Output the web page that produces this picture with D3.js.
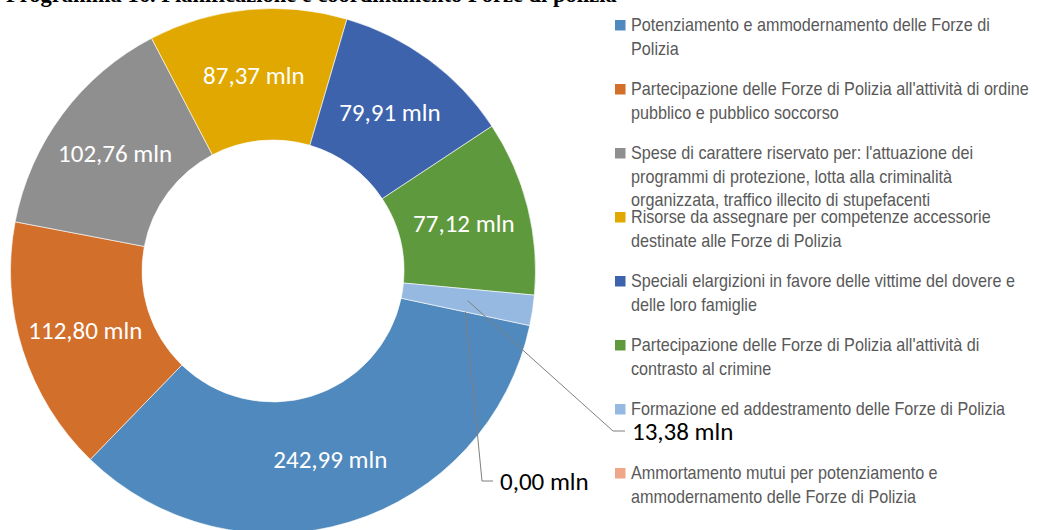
<!DOCTYPE html>
<html><head><meta charset="utf-8">
<script src="https://cdn.jsdelivr.net/npm/d3@7"></script>
<style>body{margin:0;background:#fff;overflow:hidden} svg{display:block}</style>
</head><body><svg id="c" width="1043" height="530"></svg>
<script>
const title = "Programma 16. Pianificazione e coordinamento Forze di polizia";
const categories = [
  "Potenziamento e ammodernamento delle Forze di Polizia",
  "Partecipazione delle Forze di Polizia all'attività di ordine pubblico e pubblico soccorso",
  "Spese di carattere riservato per: l'attuazione dei programmi di protezione, lotta alla criminalità organizzata, traffico illecito di stupefacenti",
  "Risorse da assegnare per competenze accessorie destinate alle Forze di Polizia",
  "Speciali elargizioni in favore delle vittime del dovere e delle loro famiglie",
  "Partecipazione delle Forze di Polizia all'attività di contrasto al crimine",
  "Formazione ed addestramento delle Forze di Polizia",
  "Ammortamento mutui per potenziamento e ammodernamento delle Forze di Polizia"
];
const values = [242.99, 112.80, 102.76, 87.37, 79.91, 77.12, 13.38, 0.00];
const colors = ["#4F89BD", "#D26F2A", "#8F8F8F", "#E0A800", "#3D63AD", "#5F993D", "#95B9E0", "#F0A688"];

const W = 1043, H = 530;
const cx = 273, cy = 271, rOut = 262.5, rIn = 131;
const startDeg = 102;

const it = d3.formatLocale({decimal: ",", thousands: ".", grouping: [3], currency: ["", "€"]});
const fmt = v => it.format(".2f")(v) + " mln";

const svg = d3.select("#c");

// title (cut off at top, as in the reference)
svg.append("text").attr("x", 6).attr("y", 2)
  .attr("font-family", "'Liberation Serif','Times New Roman',serif")
  .attr("font-weight", "bold").attr("font-size", 22.5).attr("fill", "#000")
  .text(title);

const data = values.map((v, i) => ({v, i, name: categories[i], color: colors[i]}));
const a0 = startDeg * Math.PI / 180;
const pie = d3.pie().sort(null).value(d => d.v).startAngle(a0).endAngle(a0 + 2 * Math.PI);
const arcs = pie(data);
const arc = d3.arc().innerRadius(rIn).outerRadius(rOut);
const g = svg.append("g").attr("transform", `translate(${cx},${cy})`);

g.selectAll("path").data(arcs).join("path")
  .attr("d", arc).attr("fill", d => d.data.color)
  .attr("stroke", "#fff").attr("stroke-width", d => d.data.v > 0 ? 0.6 : 0);

const labelFont = "Carlito, Calibri, Lato, sans-serif";
const labelSize = 25;
const inside = arcs.filter(d => d.data.v > 50);
g.selectAll("text.in").data(inside).join("text").attr("class", "in")
  .attr("transform", d => `translate(${arc.centroid(d)})`)
  .attr("text-anchor", "middle").attr("dy", "0.35em")
  .attr("font-family", labelFont).attr("font-size", labelSize).attr("fill", "#fff")
  .text(d => fmt(d.data.v));

// outside labels with leader lines (elbow offsets relative to chart centre)
const outsideLayout = {6: {ex: 340, ey: 160, hx: 352}, 7: {ex: 209, ey: 210, hx: 220}};
arcs.filter(d => d.data.v <= 50).forEach(d => {
  const L = outsideLayout[d.data.i];
  const [px, py] = arc.centroid(d);
  g.append("path")
    .attr("d", `M${px},${py}L${L.ex},${L.ey}L${L.hx},${L.ey}`)
    .attr("fill", "none").attr("stroke", "#7f7f7f").attr("stroke-width", 1);
  g.append("text").attr("x", L.hx + 7).attr("y", L.ey).attr("dy", "0.35em")
    .attr("font-family", labelFont).attr("font-size", labelSize).attr("fill", "#000")
    .text(fmt(d.data.v));
});

// legend (narrow sans, emulated with a horizontal scale)
const legX = 615, legTextX = 631, legY0 = 25, legStep = 64, lineH = 23.3, maxW = 410;
const legFont = "'Liberation Sans Narrow','Arial Narrow','Liberation Sans',Arial,sans-serif";
const legSize = 18;
const leg = svg.append("g");
const probe = svg.append("text").attr("font-family", legFont).attr("font-size", legSize)
  .text("Partecipazione delle Forze di Polizia all'attività di ordine");
const sx = Math.min(1, 398 / probe.node().getComputedTextLength());
probe.remove();

data.forEach((d, k) => {
  const y = legY0 + legStep * k;
  leg.append("rect").attr("x", legX).attr("y", y - 5).attr("width", 10.5).attr("height", 10.5)
    .attr("fill", d.color);
  const t = leg.append("text").attr("font-family", legFont).attr("font-size", legSize)
    .attr("fill", "#595959")
    .attr("transform", `translate(${legTextX},0) scale(${sx},1)`);
  const words = d.name.split(" ");
  let line = [], ln = 0;
  let ts = t.append("tspan").attr("x", 0).attr("y", y).attr("dy", "0.35em");
  words.forEach(w => {
    line.push(w);
    ts.text(line.join(" "));
    if (ts.node().getComputedTextLength() * sx > maxW && line.length > 1) {
      line.pop();
      ts.text(line.join(" "));
      line = [w];
      ln++;
      ts = t.append("tspan").attr("x", 0).attr("y", y + ln * lineH).attr("dy", "0.35em").text(w);
    }
  });
});
</script></body></html>
